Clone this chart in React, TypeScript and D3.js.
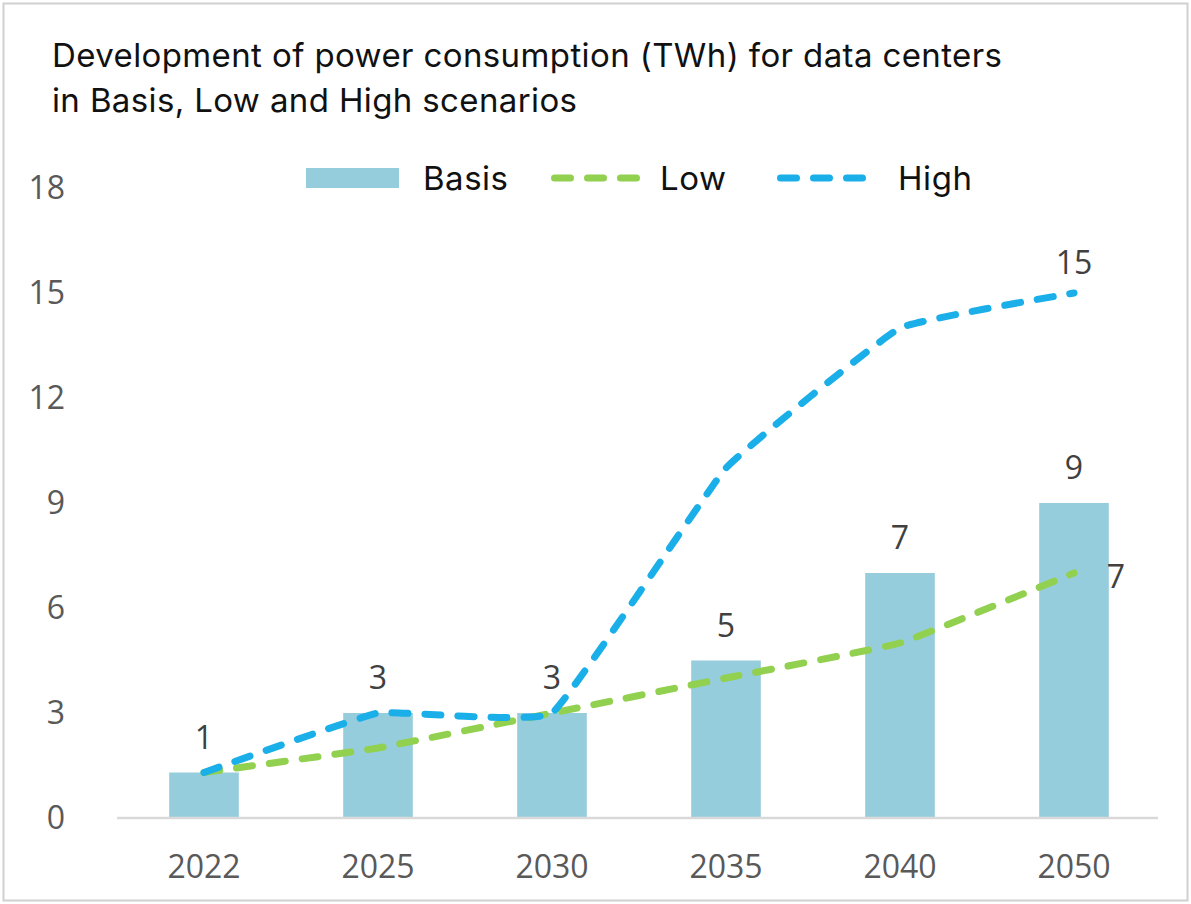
import React, { useEffect, useRef } from 'react';
import * as d3 from 'd3';

const years = ['2022', '2025', '2030', '2035', '2040', '2050'];
const basis = [1.3, 3, 3, 4.5, 7, 9];
const low = [1.3, 2, 3, 4, 5, 7];
const high = [1.3, 3, 3, 10, 14, 15];
const basisLabels = ['1', '3', '3', '5', '7', '9'];
const yTicks = [0, 3, 6, 9, 12, 15, 18];

const App = () => {
  const ref = useRef<SVGSVGElement | null>(null);

  useEffect(() => {
    const width = 1191;
    const height = 904;
    const svg = d3.select(ref.current);
    svg.selectAll('*').remove();

    // frame
    svg.append('rect')
      .attr('x', 3.5).attr('y', 3.5)
      .attr('width', width - 7).attr('height', height - 7)
      .attr('fill', '#fff')
      .attr('stroke', '#d0d0d0').attr('stroke-width', 2);

    // title
    const title = svg.append('text')
      .attr('font-family', 'Inter, sans-serif')
      .attr('font-size', 33)
      .attr('fill', '#111');
    title.append('tspan').attr('x', 52).attr('y', 67)
      .attr('textLength', 950).attr('lengthAdjust', 'spacing')
      .text('Development of power consumption (TWh) for data centers');
    title.append('tspan').attr('x', 52).attr('y', 112)
      .attr('textLength', 525).attr('lengthAdjust', 'spacing')
      .text('in Basis, Low and High scenarios');

    const x = d3.scaleBand().domain(years).range([117, 1161]).paddingInner(0.6).paddingOuter(0.3);
    const y = d3.scaleLinear().domain([0, 18]).range([818, 188]);
    const cx = (d: string) => (x(d) as number) + x.bandwidth() / 2;

    const tickFont = 'Open Sans, sans-serif';

    // y labels
    svg.append('g')
      .selectAll('text')
      .data(yTicks)
      .enter()
      .append('text')
      .attr('x', 65)
      .attr('y', d => y(d))
      .attr('dy', '0.35em')
      .attr('text-anchor', 'end')
      .attr('font-family', tickFont)
      .attr('font-size', 32)
      .attr('fill', '#595959')
      .text(d => d);

    // bars
    svg.append('g')
      .selectAll('rect')
      .data(years)
      .enter()
      .append('rect')
      .attr('x', d => x(d) as number)
      .attr('width', x.bandwidth())
      .attr('y', (d, i) => y(basis[i]))
      .attr('height', (d, i) => y(0) - y(basis[i]))
      .attr('fill', '#96CDDC');

    // x axis line
    svg.append('line')
      .attr('x1', 117).attr('x2', 1158)
      .attr('y1', y(0)).attr('y2', y(0))
      .attr('stroke', '#d9d9d9').attr('stroke-width', 2.5);

    // x labels
    svg.append('g')
      .selectAll('text')
      .data(years)
      .enter()
      .append('text')
      .attr('x', d => cx(d))
      .attr('y', 878)
      .attr('text-anchor', 'middle')
      .attr('font-family', tickFont)
      .attr('font-size', 32)
      .attr('fill', '#595959')
      .text(d => d);

    const line = d3.line<number>()
      .x((d, i) => cx(years[i]))
      .y(d => y(d))
      .curve(d3.curveCardinal.tension(0.72));

    const series = [
      { values: low, color: '#92D050' },
      { values: high, color: '#1AAFE9' },
    ];
    series.forEach(s => {
      svg.append('path')
        .attr('d', line(s.values) as string)
        .attr('fill', 'none')
        .attr('stroke', s.color)
        .attr('stroke-width', 7)
        .attr('stroke-linecap', 'round')
        .attr('stroke-dasharray', '16 17');
    });

    // data labels
    const lab = svg.append('g')
      .attr('font-family', tickFont)
      .attr('font-size', 32)
      .attr('fill', '#404040');
    years.forEach((yr, i) => {
      lab.append('text')
        .attr('x', cx(yr))
        .attr('y', y(basis[i]) - 24)
        .attr('text-anchor', 'middle')
        .text(basisLabels[i]);
    });
    const last = years.length - 1;
    lab.append('text')
      .attr('x', cx(years[last]))
      .attr('y', y(high[last]) - 19)
      .attr('text-anchor', 'middle')
      .text('15');
    lab.append('text')
      .attr('x', cx(years[last]) + 42)
      .attr('y', y(low[last]) + 15)
      .attr('text-anchor', 'middle')
      .text('7');

    // legend
    const leg = svg.append('g').attr('font-family', 'Inter, sans-serif').attr('font-size', 33).attr('fill', '#111');
    leg.append('rect').attr('x', 306).attr('y', 168).attr('width', 93).attr('height', 20).attr('fill', '#96CDDC');
    leg.append('text').attr('x', 423).attr('y', 190).attr('textLength', 85).attr('lengthAdjust', 'spacing').text('Basis');
    [
      { x0: 551, color: '#92D050', name: 'Low', tx: 660, tl: 66 },
      { x0: 777, color: '#1AAFE9', name: 'High', tx: 898, tl: 74 },
    ].forEach(l => {
      leg.append('line')
        .attr('x1', l.x0 + 3.5).attr('x2', l.x0 + 92)
        .attr('y1', 178).attr('y2', 178)
        .attr('stroke', l.color)
        .attr('stroke-width', 7)
        .attr('stroke-linecap', 'round')
        .attr('stroke-dasharray', '16 17');
      leg.append('text').attr('x', l.tx).attr('y', 190)
        .attr('textLength', l.tl).attr('lengthAdjust', 'spacing').text(l.name);
    });
  }, []);

  return (
    <div style={{ position: 'absolute', left: 0, top: 0 }}>
      <svg ref={ref} width={1191} height={904}></svg>
    </div>
  );
};

export default App;
